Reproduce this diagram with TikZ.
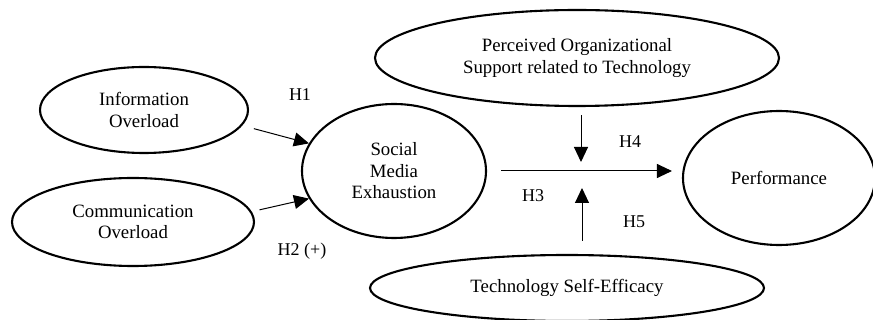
\documentclass[tikz,border=0pt]{standalone}
\usepackage{fontspec}
\setmainfont{Liberation Serif}
\usetikzlibrary{positioning,arrows.meta,shapes.geometric}

\begin{document}
\begin{tikzpicture}[x=1pt,y=-1pt,
  construct/.style={ellipse,draw,line width=2.1pt,inner sep=0pt,align=center,
    font=\fontsize{18.8}{21.5}\selectfont},
  hyp/.style={font=\fontsize{18}{20}\selectfont},
  arr/.style={line width=1pt,-{Triangle[length=15pt,width=14pt]}}]
\useasboundingbox (0,0) rectangle (873,320);
\node[construct,minimum width=208pt,minimum height=86pt] (info) at (144,110) {Information\\Overload};
\node[construct,minimum width=242pt,minimum height=88pt] (comm) at (133,222) {Communication\\Overload};
\node[construct,minimum width=184pt,minimum height=134pt] (sme) at (394,171) {Social\\Media\\Exhaustion};
\node[construct,minimum width=404pt,minimum height=96pt] (pos) at (577,58) {Perceived Organizational\\Support related to Technology};
\node[construct,minimum width=394pt,minimum height=66pt] (tse) at (567,288) {Technology Self-Efficacy};
\node[construct,minimum width=192pt,minimum height=134pt] (perf) at (779,178) {Performance};
\coordinate (jn) at (581,171);
\draw[arr,shorten <=12pt] (info.-9) -- (sme.162);
\draw[arr,shorten <=8pt] (comm.5) -- (sme.198);
\draw[arr,shorten <=14pt,shorten >=10pt] (sme.east) -- (sme.east -| perf.west);
\draw[arr,shorten <=8pt,shorten >=9pt] (jn |- pos.south) -- (jn);
\draw[arr,shorten <=13pt,shorten >=17pt] ([xshift=1pt]jn |- tse.north) -- ([xshift=1pt]jn);
\node[hyp] (h1) at (300,95) {H1};
\node[hyp] (h2) at (302,251) {H2 (+)};
\node[hyp] (h3) at (533,196) {H3};
\node[hyp] (h4) at (630,142) {H4};
\node[hyp] (h5) at (634,222) {H5};
\end{tikzpicture}
\end{document}
